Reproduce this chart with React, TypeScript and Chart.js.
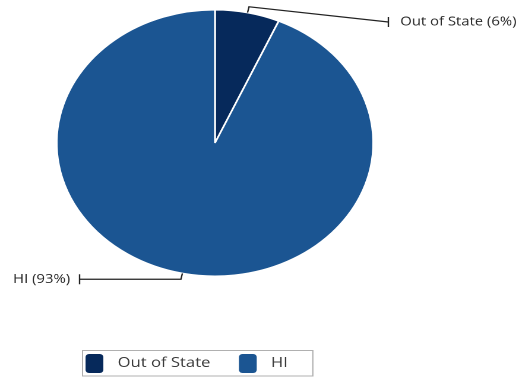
import React, { useEffect, useRef } from "react";
import { Chart, registerables } from "chart.js";

Chart.register(...registerables);

const categories = ["Out of State", "HI"];
const shareValues = [6.6, 93.4];
const shareLabels = ["6%", "93%"];
const sliceColors = ["#06295b", "#1b5592"];

// The reference is horizontally stretched; draw at a narrower width and stretch.
const DRAW_W = 437;
const DRAW_H = 382;
const SHOW_W = 519;
const SHOW_H = 382;

const leaderPlugin = {
  id: "leaders",
  afterDatasetsDraw(chart: any) {
    const { ctx, chartArea } = chart;
    const meta = chart.getDatasetMeta(0);
    meta.data.forEach((arc: any, i: number) => {
      const { x, y, startAngle, endAngle, outerRadius } = arc.getProps(
        ["x", "y", "startAngle", "endAngle", "outerRadius"],
        true
      );
      const mid = (startAngle + endAngle) / 2;
      const c = Math.cos(mid);
      const s = Math.sin(mid);
      const ex = x + c * outerRadius;
      const ey = y + s * outerRadius;
      const bx = x + c * (outerRadius + 6);
      const by = y + s * (outerRadius + 6);
      const right = c >= 0;
      const endX = right ? chartArea.right + 12 : chartArea.left + 20;
      const labelY = Math.max(by, chartArea.top + 13);
      ctx.save();
      ctx.strokeStyle = "#222222";
      ctx.lineWidth = 1.2;
      ctx.beginPath();
      ctx.moveTo(ex, ey);
      ctx.lineTo(bx, by);
      ctx.lineTo(endX, labelY);
      ctx.stroke();
      ctx.beginPath();
      ctx.moveTo(endX, labelY - 5);
      ctx.lineTo(endX, labelY + 5);
      ctx.stroke();
      ctx.font = '12.5px "Open Sans"';
      ctx.fillStyle = "#2a2a2a";
      ctx.textBaseline = "middle";
      ctx.textAlign = right ? "left" : "right";
      ctx.fillText(
        `${chart.data.labels[i]} (${shareLabels[i]})`,
        right ? endX + 10 : endX - 8,
        labelY
      );
      ctx.restore();
    });
  },
};

const boxLegendPlugin = {
  id: "boxLegend",
  afterDraw(chart: any) {
    const { ctx } = chart;
    const ds = chart.data.datasets[0];
    const left = 69.5;
    const top = chart.height - 31.5;
    const h = 25.5;
    ctx.save();
    ctx.font = '14px "Open Sans"';
    ctx.textBaseline = "middle";
    ctx.textAlign = "left";
    let cx = left + 2.5;
    const midY = top + h / 2;
    chart.data.labels.forEach((lab: string, i: number) => {
      ctx.fillStyle = ds.backgroundColor[i];
      ctx.beginPath();
      (ctx as any).roundRect(cx, top + 3.5, 15, 19, 3);
      ctx.fill();
      cx += 15 + 12;
      ctx.fillStyle = "#3a3a3a";
      ctx.fillText(lab, cx, midY);
      cx += ctx.measureText(lab).width + 24;
    });
    const right = cx - 24 + 21;
    ctx.strokeStyle = "#b0b0b0";
    ctx.lineWidth = 1;
    ctx.strokeRect(left, top, right - left, h);
    ctx.restore();
  },
};

export default function App() {
  const ref = useRef<HTMLCanvasElement | null>(null);
  useEffect(() => {
    if (!ref.current) return;
    const chart = new Chart(ref.current, {
      type: "pie",
      data: {
        labels: categories,
        datasets: [
          {
            data: shareValues,
            backgroundColor: sliceColors,
            borderColor: "#ffffff",
            borderWidth: 1.5,
            hoverOffset: 0,
          },
        ],
      },
      options: {
        responsive: false,
        animation: false,
        devicePixelRatio: 2,
        layout: { padding: { left: 47, right: 122, top: 9, bottom: 105 } },
        plugins: {
          legend: { display: false },
          tooltip: { enabled: false },
        },
      },
      plugins: [leaderPlugin, boxLegendPlugin],
    });
    return () => chart.destroy();
  }, []);
  return (
    <div
      style={{
        position: "fixed",
        left: 0,
        top: 0,
        width: SHOW_W,
        height: SHOW_H,
        background: "#ffffff",
      }}
    >
      <canvas
        ref={ref}
        width={DRAW_W}
        height={DRAW_H}
        style={{ width: `${SHOW_W}px`, height: `${SHOW_H}px`, display: "block" }}
      />
    </div>
  );
}
